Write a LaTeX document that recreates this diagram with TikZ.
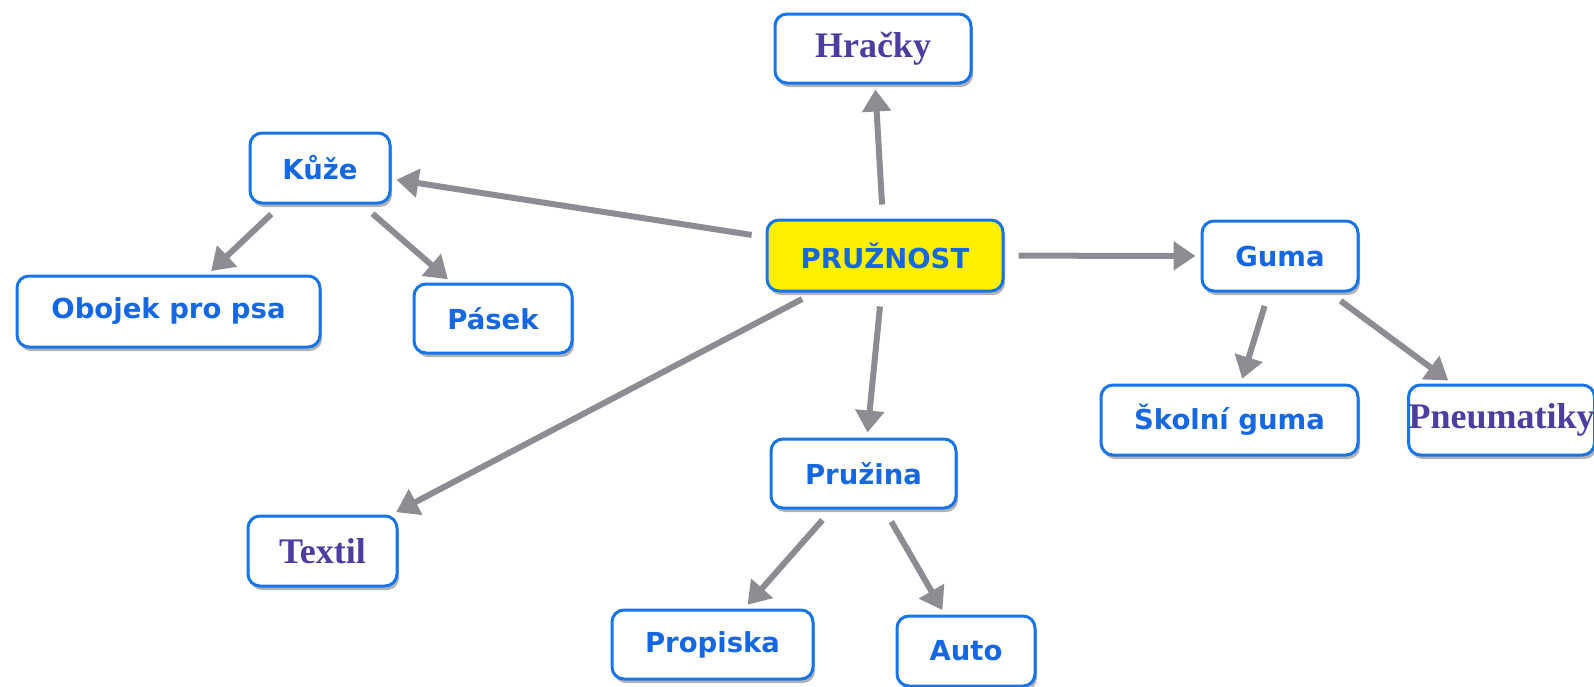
\documentclass[tikz,border=0pt]{standalone}
\usepackage{fontspec}
\usepackage{tikz}
\usetikzlibrary{arrows.meta,shadows}
\newfontfamily\mapsans{DejaVu Sans}
\newfontfamily\mapserif{Liberation Serif}
\definecolor{mapblue}{RGB}{24,117,232}
\definecolor{maptext}{RGB}{22,104,226}
\definecolor{mappurple}{RGB}{76,62,160}
\definecolor{mapyellow}{RGB}{255,240,0}
\definecolor{mapgray}{RGB}{140,140,146}
\tikzset{
  box/.style={draw=mapblue, line width=3pt, rounded corners=12pt, fill=white,
    drop shadow={shadow xshift=2pt, shadow yshift=-4pt, fill=black, opacity=0.3},
    inner sep=0pt, font=\mapsans\bfseries\fontsize{27.5}{32}\selectfont, text=maptext},
  serifbox/.style={box, font=\mapserif\bfseries\fontsize{36}{42}\selectfont, text=mappurple},
  link/.style={draw=mapgray, line width=6pt, shorten <=14pt, shorten >=5pt,
    -{Triangle[length=22pt,width=28pt]}},
}
\begin{document}
\begin{tikzpicture}[x=1pt, y=-1pt]
            \useasboundingbox (0,0) rectangle (1594,686);
            % Nodes
            \node[box, fill=mapyellow, minimum width=236pt, minimum height=71pt] (pruznost) at (885,255.5) {PRUŽNOST};
            \node[serifbox, minimum width=196pt, minimum height=69pt] (hracky) at (873,48.5) {Hračky};
            \node[box, minimum width=140pt, minimum height=70pt] (kuze) at (320,168) {Kůže};
            \node[box, minimum width=156pt, minimum height=70pt] (guma) at (1280,256) {Guma};
            \node[box, minimum width=303pt, minimum height=71pt] (obojek) at (168.5,311.5) {Obojek pro psa};
            \node[box, minimum width=158pt, minimum height=69pt] (pasek) at (493,318.5) {Pásek};
            \node[box, minimum width=257pt, minimum height=70pt] (skolni) at (1229.5,420) {Školní guma};
            \node[serifbox, minimum width=185pt, minimum height=70pt] (pneu) at (1501.5,420) {Pneumatiky};
            \node[box, minimum width=185pt, minimum height=69pt] (pruzina) at (863.5,473.5) {Pružina};
            \node[serifbox, minimum width=149pt, minimum height=70pt] (textil) at (322.5,551) {Textil};
            \node[box, minimum width=201pt, minimum height=69pt] (propiska) at (712.5,644.5) {Propiska};
            \node[box, minimum width=138pt, minimum height=70pt] (auto) at (966,651) {Auto};

            % Lines
            \draw[link] (pruznost) -- (hracky);
            \draw[link] (pruznost) -- (kuze);
            \draw[link] (pruznost) -- (guma);
            \draw[link] (pruznost) -- (textil);
            \draw[link] (pruznost) -- (pruzina);
            \draw[link] (kuze) -- (obojek);
            \draw[link] (kuze) -- (pasek);
            \draw[link] (guma) -- (skolni);
            \draw[link] (guma) -- (pneu);
            \draw[link] (pruzina) -- (propiska);
            \draw[link] (pruzina) -- (auto);
        \end{tikzpicture}
\end{document}
